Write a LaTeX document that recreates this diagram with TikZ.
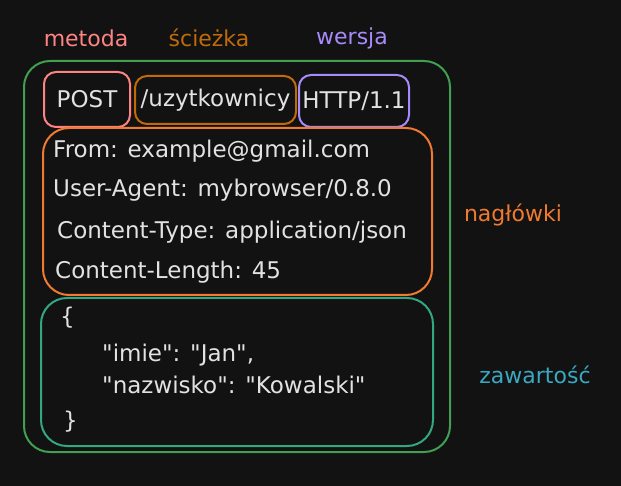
\documentclass[tikz,border=0pt]{standalone}
\usepackage{fontspec}
\newfontfamily\hf{DejaVu Sans}
\definecolor{bg}{HTML}{121212}
\definecolor{txt}{HTML}{E2E2E2}
\definecolor{cmet}{HTML}{FF8383}
\definecolor{cpath}{HTML}{C06A08}
\definecolor{cver}{HTML}{A78BFA}
\definecolor{cout}{HTML}{40A050}
\definecolor{chead}{HTML}{F07A30}
\definecolor{cbody}{HTML}{32A882}
\definecolor{czaw}{HTML}{3AA8C0}
\tikzset{
  box/.style={draw, line width=2pt, rounded corners=#1, inner sep=0pt},
  box/.default=12pt,
  lbl/.style={font=\hf\fontsize{22}{26}\selectfont, inner sep=0pt},
  ln/.style={font=\hf\fontsize{23}{27}\selectfont, text=txt, anchor=west, inner sep=0pt},
  intxt/.style={font=\hf\fontsize{23}{27}\selectfont, text=txt},
}
\begin{document}
\begin{tikzpicture}[x=1pt,y=-1pt]
\fill[bg] (0,0) rectangle (621,486);
\useasboundingbox (0,0) rectangle (621,486);
% labels
\node[lbl, text=cmet] (lmet) at (86,38) {metoda};
\node[lbl, text=cpath] (lpath) at (209,38) {ścieżka};
\node[lbl, text=cver] (lver) at (352,38) {wersja};
\node[lbl, text=chead] (lhead) at (513,215) {nagłówki};
\node[lbl, text=czaw] (lzaw) at (535,375) {zawartość};
% outer
\node[box=26pt, draw=cout, minimum width=426pt, minimum height=391pt] (outer) at (237,256.5) {};
% request line
\node[box, draw=cmet, minimum width=86pt, minimum height=55pt, intxt] (post) at (87,99.5) {POST};
\node[box, draw=cpath, minimum width=161pt, minimum height=48pt, intxt] (path) at (215.5,100) {/uzytkownicy};
\node[box, draw=cver, minimum width=110pt, minimum height=52pt, intxt] (ver) at (354,101) {HTTP/1.1};
% headers
\node[box=26pt, draw=chead, minimum width=389pt, minimum height=167pt] (head) at (237.5,211.5) {};
\node[ln] (h1) at (53,151) {From: example@gmail.com};
\node[ln] (h2) at (53,190) {User-Agent: mybrowser/0.8.0};
\node[ln] (h3) at (57,232) {Content-Type: application/json};
\node[ln] (h4) at (55,272) {Content-Length: 45};
% body
\node[box=26pt, draw=cbody, minimum width=392pt, minimum height=148pt] (body) at (237,372) {};
\node[ln] (b1) at (60,318) {\{};
\node[ln] (b2) at (102,355) {"imie": "Jan",};
\node[ln] (b3) at (102,385) {"nazwisko": "Kowalski"};
\node[ln] (b4) at (63,422) {\}};
\end{tikzpicture}
\end{document}
